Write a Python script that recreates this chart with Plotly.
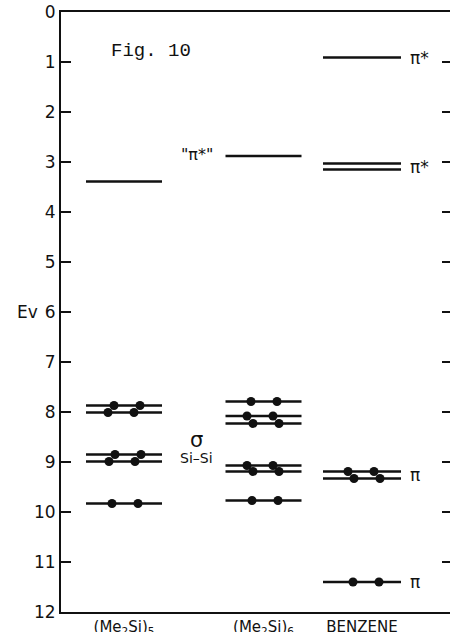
import plotly.graph_objects as go

# ---------------- data ----------------
compounds = ["(Me<sub>2</sub>Si)<sub>5</sub>", "(Me<sub>2</sub>Si)<sub>6</sub>", "BENZENE"]
levels_me2si5 = [3.39, 7.87, 8.01, 8.85, 8.99, 9.83]
filled_me2si5 = [False, True, True, True, True, True]
levels_me2si6 = [2.88, 7.79, 8.08, 8.23, 9.07, 9.19, 9.77]
filled_me2si6 = [False, True, True, True, True, True, True]
levels_benzene = [0.91, 3.03, 3.15, 9.19, 9.33, 11.40]
filled_benzene = [False, False, False, True, True, True]
y_ticks = list(range(0, 13))
level_labels = ["π*", "π*", "π", "π"]
level_label_energy = [0.91, 3.09, 9.26, 11.40]

# ---------------- style / layout constants ----------------
col_center = [63, 202.5, 301]        # x positions (axis units) of the three columns
col_half = [38, 38, 39]
dot_shift = [
    [0, -10, -16, -9, -15, -12],
    [0, -12.5, -16.5, -10.5, -16.5, -10.5, -11.5],
    [0, 0, 0, -14, -8, -9],
]
dot_gap = 26
LW = 2.6
DOT = 9
INK = "#111111"
FONT = "DejaVu Sans"
L, T, PW, PH = 61, 12, 389, 600   # plot area in window pixels
W, H = 450, 632

all_levels = [levels_me2si5, levels_me2si6, levels_benzene]
all_filled = [filled_me2si5, filled_me2si6, filled_benzene]

fig = go.Figure()
for ci, (levs, fills) in enumerate(zip(all_levels, all_filled)):
    c, h = col_center[ci], col_half[ci]
    for li, (e, f) in enumerate(zip(levs, fills)):
        fig.add_trace(go.Scatter(x=[c - h, c + h], y=[e, e], mode="lines",
                                 line=dict(color=INK, width=LW),
                                 hoverinfo="skip", showlegend=False))
        if f:
            s = dot_shift[ci][li]
            fig.add_trace(go.Scatter(x=[c + s, c + s + dot_gap], y=[e, e], mode="markers",
                                     marker=dict(color=INK, size=DOT),
                                     hoverinfo="skip", showlegend=False))

# invisible trace for the right tick axis
fig.add_trace(go.Scatter(x=[0], y=[6], yaxis="y2", mode="markers",
                         marker=dict(opacity=0), hoverinfo="skip", showlegend=False))

# benzene labels
bx = col_center[2] + col_half[2] + 7
for lab, e in zip(level_labels, level_label_energy):
    fig.add_annotation(x=bx, y=e, text=lab, showarrow=False,
                       xanchor="left", yanchor="middle",
                       font=dict(family=FONT, size=17, color=INK))


def px(xp, yp):
    return (xp - L) / PW, 1 - (yp - T) / PH


for text, (xp, yp), size, fam in [
    ('"π*"', (197, 155), 16, FONT),
    ("σ", (196, 440), 21, FONT),
    ("Si–Si", (196, 458), 14, FONT),
    ("Fig. 10", (151, 51), 19, "Liberation Mono"),
    ("Ev", (27, 312), 17, FONT),
]:
    xx, yy = px(xp, yp)
    fig.add_annotation(xref="paper", yref="paper", x=xx, y=yy, text=text,
                       xanchor="center", yanchor="middle", showarrow=False,
                       font=dict(family=fam, size=size, color=INK))

fig.update_layout(
    width=W, height=H,
    margin=dict(l=L, r=W - L - PW, t=T, b=H - T - PH, autoexpand=False),
    paper_bgcolor="white", plot_bgcolor="white",
    xaxis=dict(range=[0, PW], showgrid=False, zeroline=False, automargin=False,
               showline=True, mirror=True, linecolor=INK, linewidth=2,
               tickvals=col_center, ticktext=compounds, ticklabeloverflow="allow",
               ticks="", tickfont=dict(family=FONT, size=15, color=INK)),
    yaxis=dict(range=[12, 0], showgrid=False, zeroline=False, automargin=False,
               showline=True, linecolor=INK, linewidth=2, ticklabeloverflow="allow",
               tickvals=y_ticks, ticks="inside", ticklen=10, tickwidth=2, tickcolor=INK,
               tickfont=dict(family=FONT, size=17, color=INK)),
    yaxis2=dict(range=[12, 0], overlaying="y", side="right", anchor="x", automargin=False,
                showgrid=False, zeroline=False, showline=False,
                tickvals=y_ticks[1:-1], ticks="inside", ticklen=8, tickwidth=2,
                tickcolor=INK, showticklabels=False),
)

# remove the browser's default page margin so the figure sits at the window's corner
fig.write_html("out.html", config={"displayModeBar": False},
               post_script="document.body.style.margin='0';")
